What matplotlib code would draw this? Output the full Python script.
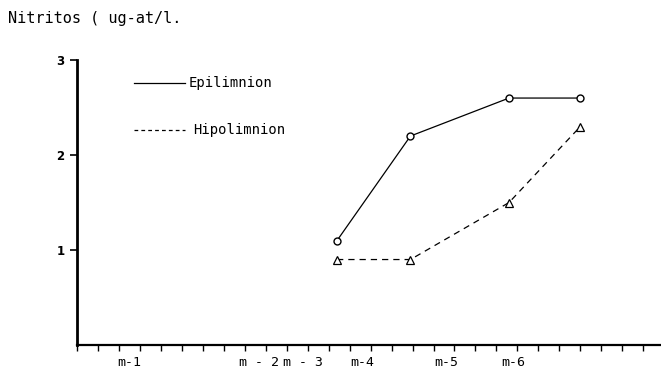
import matplotlib
matplotlib.use('Agg')
import matplotlib.pyplot as plt
from matplotlib.ticker import MultipleLocator

# Nitritos por muestreo (ug-at/l), posicion en la escala del eje
x_muestreo = [12.4, 15.9, 20.6, 24.0]
epilimnion = [1.1, 2.2, 2.6, 2.6]
hipolimnion = [0.9, 0.9, 1.5, 2.3]

etiq_pos = [2.5, 8.7, 10.8, 13.6, 17.6, 20.8]
etiq_txt = ["m-1", "m - 2", "m - 3", "m-4", "m-5", "m-6"]

MONO = "DejaVu Sans Mono"

fig = plt.figure(figsize=(6.61, 3.73), dpi=100)
ax = fig.add_axes([0.1165, 0.075, 0.882, 0.764])

ax.plot(x_muestreo, epilimnion, color='black', lw=0.9,
        marker='o', ms=5, mfc='white', mec='black', mew=1.0)
ax.plot(x_muestreo, hipolimnion, color='black', lw=0.9, ls=(0, (5, 4)),
        marker='^', ms=5.5, mfc='white', mec='black', mew=0.9)

ax.set_xlim(0, 27.8)
ax.set_ylim(0, 3)
ax.spines['top'].set_visible(False)
ax.spines['right'].set_visible(False)
ax.spines['left'].set_linewidth(2.0)
ax.spines['bottom'].set_linewidth(1.6)

ax.set_yticks([1, 2, 3])
ax.set_yticklabels(["1", "2", "3"], fontsize=8.5, fontweight='bold')
ax.tick_params(axis='y', length=5, width=1.2, pad=4)

ax.xaxis.set_minor_locator(MultipleLocator(1))
ax.set_xticks(etiq_pos)
ax.set_xticklabels(etiq_txt, fontsize=9.5, family=MONO)
ax.tick_params(axis='x', which='major', length=0, pad=8)
ax.tick_params(axis='x', which='minor', length=4, width=1.0)

# leyenda dibujada a mano
ax.plot([0.097, 0.186], [0.919, 0.919], transform=ax.transAxes,
        color='black', lw=0.9, clip_on=False)
ax.text(0.191, 0.919, "Epilimnion", transform=ax.transAxes,
        va='center', ha='left', fontsize=10, family=MONO)
ax.plot([0.097, 0.186], [0.755, 0.755], transform=ax.transAxes,
        color='black', lw=0.9, ls=(0, (3, 2.5)), clip_on=False)
ax.text(0.2, 0.755, "Hipolimnion", transform=ax.transAxes,
        va='center', ha='left', fontsize=10, family=MONO)

fig.text(0.012, 0.95, "Nitritos ( ug-at/l.", fontsize=11, family=MONO,
         va='center', ha='left')

fig.savefig("out.png", dpi=100)
